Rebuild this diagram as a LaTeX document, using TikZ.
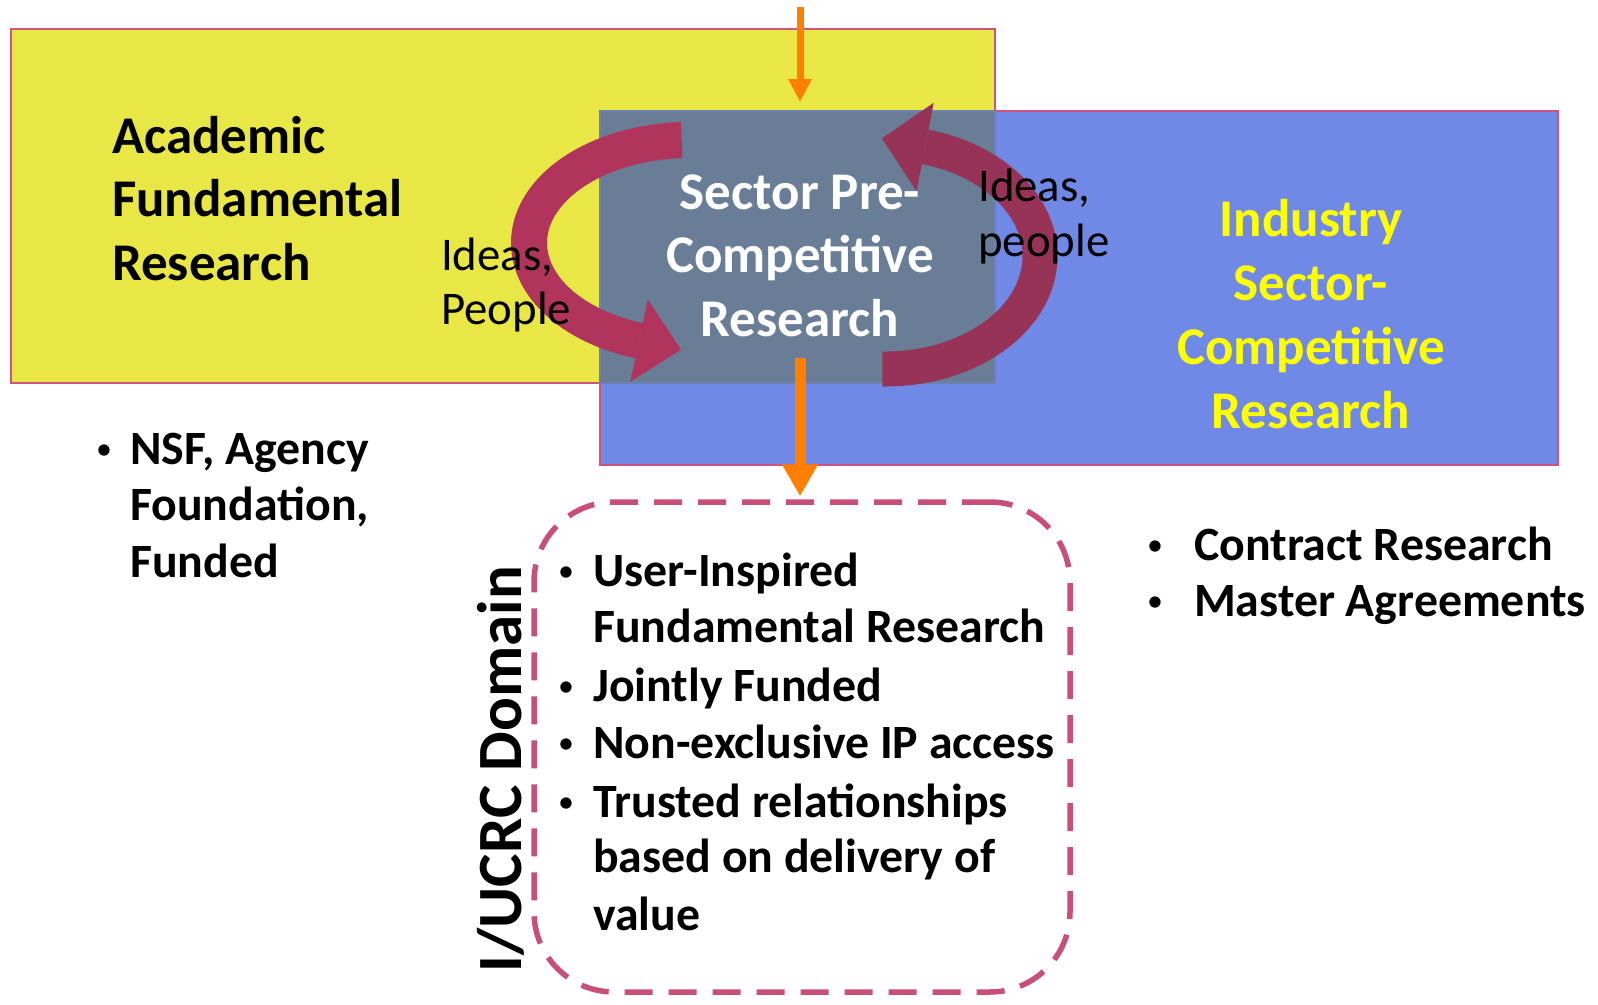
\documentclass[tikz,border=0pt]{standalone}
\usepackage{fontspec}
\setmainfont{Carlito}
\usetikzlibrary{arrows.meta}
\definecolor{ayellow}{RGB}{232,231,70}
\definecolor{ablue}{RGB}{112,137,230}
\definecolor{agray}{RGB}{105,125,150}
\definecolor{aborder}{RGB}{205,85,125}
\definecolor{larrow}{RGB}{176,52,92}
\definecolor{rarrow}{RGB}{150,51,86}
\definecolor{aorange}{RGB}{255,127,0}
\definecolor{adash}{RGB}{200,80,120}
\definecolor{ytext}{RGB}{255,255,0}
\begin{document}
\begin{tikzpicture}[x=1pt,y=1pt,
  box/.style={draw=aborder, line width=1.5pt, anchor=north west, inner sep=0pt},
  big/.style={font=\fontsize{53}{63}\selectfont\bfseries, inner sep=0pt},
  mid/.style={font=\fontsize{47.8}{56}\selectfont\bfseries, inner sep=0pt},
  bul/.style={font=\fontsize{32}{32}\selectfont, inner sep=0pt, anchor=base, yshift=5pt},
  idea/.style={font=\fontsize{46.8}{53}\selectfont, inner sep=0pt},
  oarrowthin/.style={draw=aorange, line width=7pt, -{Triangle[width=22pt,length=23pt]}},
  oarrowthick/.style={draw=aorange, line width=11pt, -{Triangle[width=34pt,length=32pt]}},
]
\useasboundingbox (0,0) rectangle (1598,-1004);

% boxes
\node[box, fill=ayellow, minimum width=984pt, minimum height=354pt] (acad) at (10,-28) {};
\node[box, fill=ablue, minimum width=958pt, minimum height=354pt] (ind) at (599,-110) {};
\node[box, draw=agray!70!ablue, fill=agray, minimum width=395pt, minimum height=272pt] (pre) at (599,-110) {};

% top orange arrow
\coordinate (topin) at (800,-7);
\draw[oarrowthin, shorten >=8pt] (topin) -- (topin |- pre.north);

% curved arrows
\coordinate (ltail) at (681.6,-140.1);
\draw[larrow, line width=36pt] (ltail) arc[start angle=93, end angle=251.5, x radius=161, y radius=103];
\fill[larrow] (647.8,-299.6) -- (681,-349.7) -- (630.2,-381.8) -- cycle;

\coordinate (rtail) at (882.3,-369.0);
\draw[rarrow, line width=35pt] (rtail) arc[start angle=-91, end angle=75, x radius=155, y radius=113];
\fill[rarrow] (933.7,-102.8) -- (881.9,-138.4) -- (916.5,-191.0) -- cycle;

% academic text
\node[big, anchor=base west] (a1) at (112,-153) {Academic};
\node[big, anchor=base west] (a2) at (112,-216) {Fundamental};
\node[big, anchor=base west] (a3) at (112,-280) {Research};

% ideas left
\node[idea, anchor=base west] (il1) at (441,-270) {Ideas,};
\node[idea, anchor=base west] (il2) at (441,-324) {People};

% sector pre-competitive
\node[big, text=white, anchor=base] (s1) at (800,-209) {Sector Pre-};
\node[big, text=white, anchor=base] (s2) at (800,-272) {Competitive};
\node[big, text=white, anchor=base] (s3) at (800,-336) {Research};

% ideas right
\node[idea, anchor=base west] (ir1) at (978,-201) {Ideas,};
\node[idea, anchor=base west] (ir2) at (978,-256) {people};

% industry
\node[big, text=ytext, anchor=base] (i1) at (1311,-236) {Industry};
\node[big, text=ytext, anchor=base] (i2) at (1311,-300) {Sector-};
\node[big, text=ytext, anchor=base] (i3) at (1311,-364) {Competitive};
\node[big, text=ytext, anchor=base] (i4) at (1311,-428) {Research};

% NSF list
\node[bul] (nb) at (104,-464) {•};
\node[mid, anchor=base west] (n1) at (130,-464) {NSF, Agency};
\node[mid, anchor=base west] (n2) at (130,-520) {Foundation,};
\node[mid, anchor=base west] (n3) at (130,-577) {Funded};

% contract list
\node[bul] (cb1) at (1155,-560) {•};
\node[mid, anchor=base west] (c1) at (1194,-560) {Contract Research};
\node[bul] (cb2) at (1155,-616) {•};
\node[mid, anchor=base west] (c2) at (1194,-616) {Master Agreements};

% domain box
\node[draw=adash, line width=5.5pt, dash pattern=on 28pt off 16pt, rounded corners=80pt,
      minimum width=536pt, minimum height=490pt, inner sep=0pt] (dom) at (802,-747) {};
\coordinate (botin) at (800,-358);
\draw[oarrowthick, shorten >=3pt] (botin) -- (botin |- dom.north);

\node[font=\fontsize{63}{70}\selectfont\bfseries, inner sep=0pt, rotate=90, anchor=base] (domlabel) at (521,-769) {I/UCRC Domain};

\node[bul] (db1) at (566,-586) {•};
\node[mid, anchor=base west] (d1) at (593,-586) {User-Inspired};
\node[mid, anchor=base west] (d2) at (593,-642) {Fundamental Research};
\node[bul] (db2) at (566,-701) {•};
\node[mid, anchor=base west] (d3) at (593,-701) {Jointly Funded};
\node[bul] (db3) at (566,-758) {•};
\node[mid, anchor=base west] (d4) at (593,-758) {Non-exclusive IP access};
\node[bul] (db4) at (566,-817) {•};
\node[mid, anchor=base west] (d5) at (593,-817) {Trusted relationships};
\node[mid, anchor=base west] (d6) at (593,-872) {based on delivery of};
\node[mid, anchor=base west] (d7) at (593,-930) {value};
\end{tikzpicture}
\end{document}
